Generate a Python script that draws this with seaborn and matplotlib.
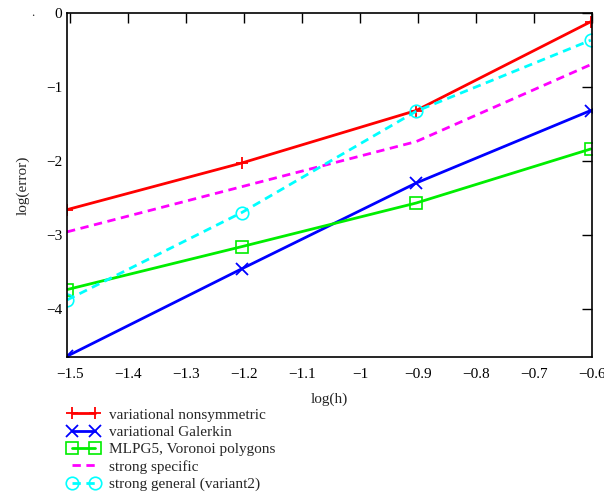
import matplotlib
matplotlib.use("Agg")
import matplotlib.pyplot as plt
import seaborn as sns
import numpy as np

# log10(h) for h = 1/32, 1/16, 1/8, 1/4
log_h = [-1.505, -1.204, -0.903, -0.602]

var_nonsym = [-2.66, -2.03, -1.32, -0.12]
var_galerkin = [-4.64, -3.46, -2.30, -1.32]
mlpg5 = [-3.74, -3.16, -2.57, -1.84]
strong_specific = [-2.96, -2.35, -1.74, -0.70]
strong_general = [-3.88, -2.70, -1.33, -0.37]

x_ticks = [-1.5, -1.4, -1.3, -1.2, -1.1, -1.0, -0.9, -0.8, -0.7, -0.6]
x_labels = ["\u22121.5", "\u22121.4", "\u22121.3", "\u22121.2", "\u22121.1",
            "\u22121", "\u22120.9", "\u22120.8", "\u22120.7", "\u22120.6"]
y_ticks = [0, -1, -2, -3, -4]
y_labels = ["0", "\u22121", "\u22122", "\u22123", "\u22124"]

sns.set_style("white")
plt.rcParams['font.family'] = ['Liberation Serif', 'DejaVu Serif']
plt.rcParams['font.size'] = 11

fig = plt.figure(figsize=(6.04, 4.93), dpi=100)
ax = fig.add_axes([0.111, 0.276, 0.869, 0.698])

sns.lineplot(x=log_h, y=var_nonsym, ax=ax, color="#ff0000", lw=2,
             marker="+", markersize=13, mew=1.3, mec="#ff0000",
             label="variational nonsymmetric")
sns.lineplot(x=log_h, y=var_galerkin, ax=ax, color="#0000ff", lw=2,
             marker="x", markersize=10, mew=1.3, mec="#0000ff",
             label="variational Galerkin")
sns.lineplot(x=log_h, y=mlpg5, ax=ax, color="#00ee00", lw=2,
             marker="s", markersize=9, mew=1.2, mfc="none", mec="#00ee00",
             label="MLPG5, Voronoi polygons")
sns.lineplot(x=log_h, y=strong_specific, ax=ax, color="#ff00ff", lw=2,
             linestyle=(0, (3, 2)), label="strong specific")
sns.lineplot(x=log_h, y=strong_general, ax=ax, color="#00ffff", lw=2,
             linestyle=(0, (3, 2)), marker="o", markersize=10, mew=1.2,
             mfc="none", mec="#00ffff", label="strong general (variant2)")

ax.set_xlim(-1.505, -0.6)
ax.set_ylim(-4.65, 0)
ax.set_xticks(x_ticks)
ax.set_xticklabels(x_labels)
ax.set_yticks(y_ticks)
ax.set_yticklabels(y_labels)
ax.tick_params(direction="in", length=7, width=1, top=True, right=True,
               labelsize=11, colors="black")
ax.tick_params(axis="x", pad=8)
for s in ax.spines.values():
    s.set_color("black")
    s.set_linewidth(1.2)
ax.set_xlabel("log(h)", fontsize=11, labelpad=8)
ax.set_ylabel("log(error)", fontsize=11, labelpad=12)

fig.text(0.054, 0.962, ".", fontsize=9, ha="center", va="bottom")

handles, labels = ax.get_legend_handles_labels()
ax.get_legend().remove()
for h in handles:
    h.set_markersize(min(h.get_markersize(), 9))
fig.legend(handles, labels, loc="upper left", bbox_to_anchor=(0.102, 0.185),
           frameon=False, fontsize=11, numpoints=2, handlelength=2.1,
           labelspacing=0.24, handletextpad=0.6, borderaxespad=0)

fig.savefig("out.png", dpi=100)
